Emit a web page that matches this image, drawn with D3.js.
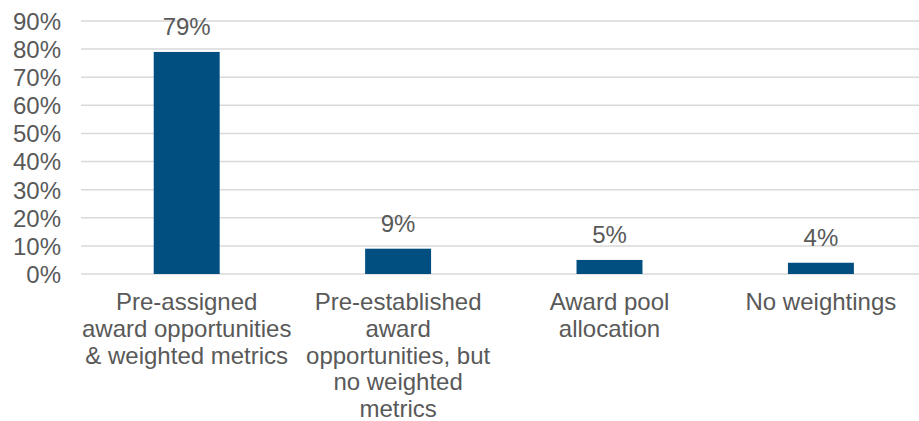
<!DOCTYPE html>
<html>
<head>
<meta charset="utf-8">
<script src="https://cdn.jsdelivr.net/npm/d3@7"></script>
<style>
  html, body { margin: 0; padding: 0; background: #fff; }
  svg { display: block; }
  text { font-family: "Liberation Sans", Arial, sans-serif; fill: #595959; }
</style>
</head>
<body>
<svg id="chart" width="919" height="421"></svg>
<script>
// Approaches used to weight metrics in incentive plans
const categories = [
  ["Pre-assigned", "award opportunities", "& weighted metrics"],
  ["Pre-established", "award", "opportunities, but", "no weighted", "metrics"],
  ["Award pool", "allocation"],
  ["No weightings"]
];
const shares = [0.79, 0.09, 0.05, 0.04];
const tickValues = [0, 0.1, 0.2, 0.3, 0.4, 0.5, 0.6, 0.7, 0.8, 0.9];

const W = 919, H = 421;
const plotLeft = 81, plotRight = 926.6, plotTop = 21, plotBottom = 274;
const fontSize = 24;

const svg = d3.select("#chart");

const x = d3.scaleBand()
  .domain(d3.range(categories.length))
  .range([plotLeft, plotRight])
  .paddingInner(0.688)
  .paddingOuter(0.344);

const y = d3.scaleLinear().domain([0, 0.9]).range([plotBottom, plotTop]);
const pct = d3.format(".0%");

// Horizontal gridlines
svg.append("g")
  .selectAll("line")
  .data(tickValues)
  .join("line")
  .attr("x1", plotLeft)
  .attr("x2", W)
  .attr("y1", d => y(d))
  .attr("y2", d => y(d))
  .attr("stroke", "#d9d9d9")
  .attr("stroke-width", 1.5);

// Y axis labels
const yAxis = d3.axisLeft(y).tickValues(tickValues).tickFormat(pct).tickSize(0).tickPadding(0);
const yg = svg.append("g").attr("transform", "translate(61,0)").call(yAxis);
yg.select(".domain").remove();
yg.selectAll("text")
  .attr("font-size", fontSize)
  .attr("font-family", "Liberation Sans, Arial, sans-serif")
  .attr("fill", "#595959")
  .attr("dy", "0.35em");

// Bars
svg.append("g")
  .selectAll("rect")
  .data(shares)
  .join("rect")
  .attr("x", (d, i) => x(i))
  .attr("width", x.bandwidth())
  .attr("y", d => y(d))
  .attr("height", d => y(0) - y(d))
  .attr("fill", "#004f80");

// Value labels
svg.append("g")
  .selectAll("text")
  .data(shares)
  .join("text")
  .attr("x", (d, i) => x(i) + x.bandwidth() / 2)
  .attr("y", d => y(d) - 17)
  .attr("text-anchor", "middle")
  .attr("font-size", fontSize)
  .text(d => pct(d));

// Category labels
const xl = svg.append("g")
  .selectAll("text")
  .data(categories)
  .join("text")
  .attr("text-anchor", "middle")
  .attr("font-size", fontSize)
  .attr("transform", (d, i) => `translate(${x(i) + x.bandwidth() / 2},310)`);
xl.selectAll("tspan")
  .data(d => d)
  .join("tspan")
  .attr("x", 0)
  .attr("y", (d, j) => j * 26.8)
  .text(d => d);
</script>
</body>
</html>
